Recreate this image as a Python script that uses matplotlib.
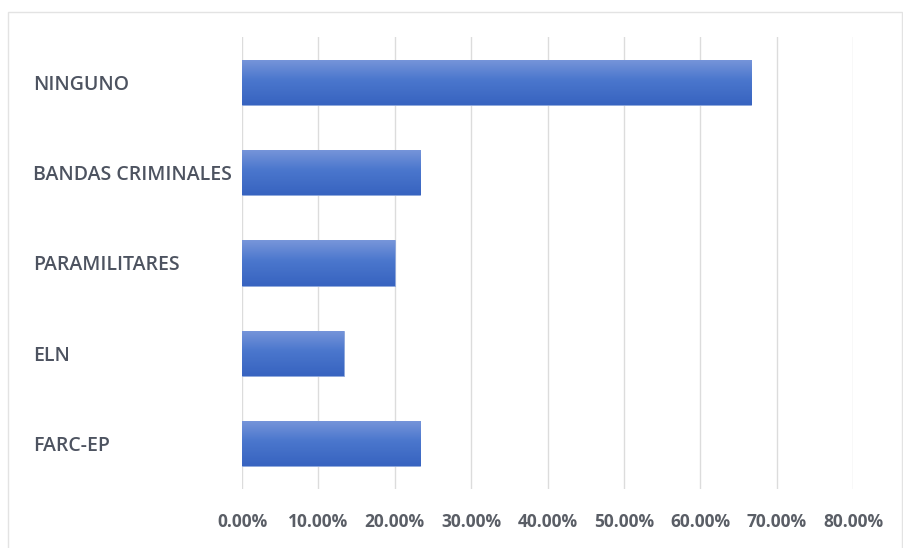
import matplotlib
matplotlib.use("Agg")
import matplotlib.pyplot as plt
import numpy as np
from matplotlib.colors import LinearSegmentedColormap
from matplotlib.patches import Rectangle
from matplotlib.ticker import FuncFormatter

categories = ["NINGUNO", "BANDAS CRIMINALES", "PARAMILITARES", "ELN", "FARC-EP"]
values = [66.67, 23.33, 20.00, 13.33, 23.33]
xticks = [0, 10, 20, 30, 40, 50, 60, 70, 80]

W, H = 904, 548
fig = plt.figure(figsize=(W / 100, H / 100), dpi=100)
fig.patch.set_facecolor("white")

# outer chart border
fig.patches.append(Rectangle((8 / W, -0.01), (902 - 8) / W, 1 - 12 / H + 0.01,
                             transform=fig.transFigure, fill=False,
                             edgecolor="#e3e3e3", linewidth=1.0))

ax = fig.add_axes([242 / W, 1 - 489 / H, (853 - 242) / W, (489 - 37) / H])
ax.set_facecolor("none")

y = np.arange(len(categories))
bars = ax.barh(y, values, height=0.5, color="#4472c4", zorder=3,
               edgecolor="#8fa8dc", linewidth=0.6)

cmap = LinearSegmentedColormap.from_list(
    "g", [(0.0, "#7896da"), (0.45, "#4b77cd"), (1.0, "#3763c0")])
grad = np.linspace(0, 1, 256).reshape(-1, 1)
for b in bars:
    x0, y0 = b.get_x(), b.get_y()
    w, h = b.get_width(), b.get_height()
    im = ax.imshow(grad, cmap=cmap, aspect="auto",
                   extent=(x0, x0 + w, y0 + h, y0), zorder=3.5,
                   interpolation="bicubic")
    im.set_clip_path(b)

ax.set_xlim(0, 80)
ax.set_ylim(len(categories) - 0.5, -0.5)
ax.set_xticks(xticks)
ax.xaxis.set_major_formatter(FuncFormatter(lambda v, p: f"{v:.2f}%"))
ax.grid(axis="x", color="#dcdcdc", linewidth=1.0, zorder=0)
ax.set_axisbelow(True)
for s in ax.spines.values():
    s.set_visible(False)
ax.tick_params(axis="both", length=0)
ax.tick_params(axis="x", pad=17)

ax.set_yticks(y)
ax.set_yticklabels(categories)
for lab in ax.get_yticklabels():
    lab.set_fontfamily("Open Sans")
    lab.set_fontsize(14)
    lab.set_fontweight("semibold")
    lab.set_color("#4d5360")
    lab.set_horizontalalignment("left")
ax.tick_params(axis="y", pad=(242 - 33) * 72 / 100)

for lab in ax.get_xticklabels():
    lab.set_fontfamily("Open Sans")
    lab.set_fontsize(12.5)
    lab.set_fontweight("bold")
    lab.set_color("#5a5e66")

fig.savefig("out.png", dpi=100, facecolor="white")
